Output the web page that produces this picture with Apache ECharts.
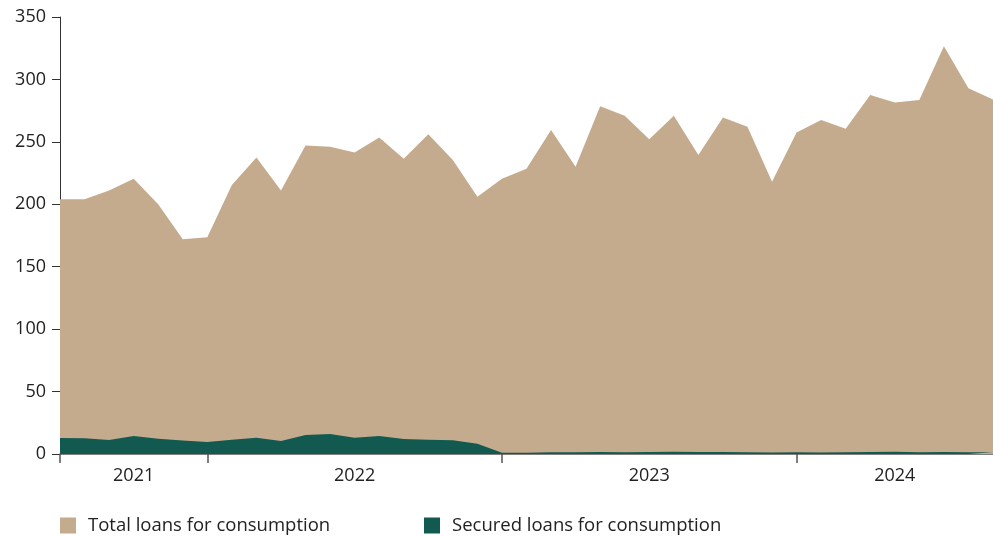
<!DOCTYPE html>
<html>
<head>
<meta charset="utf-8">
<script src="https://cdn.jsdelivr.net/npm/echarts@6/dist/echarts.min.js"></script>
<style>html,body{margin:0;padding:0;background:#fff}#c{width:993px;height:536px}</style>
</head>
<body>
<div id="c"></div>
<script>
const months = ['2021-07','2021-08','2021-09','2021-10','2021-11','2021-12',
  '2022-01','2022-02','2022-03','2022-04','2022-05','2022-06','2022-07','2022-08','2022-09','2022-10','2022-11','2022-12',
  '2023-01','2023-02','2023-03','2023-04','2023-05','2023-06','2023-07','2023-08','2023-09','2023-10','2023-11','2023-12',
  '2024-01','2024-02','2024-03','2024-04','2024-05','2024-06','2024-07','2024-08','2024-09'];
const totalLoans = [204, 204, 211, 220.5, 200, 172, 173.5, 215.5, 237.5, 211, 247, 246, 241.5, 253.5, 236.5, 256, 235.5, 206,
  220.5, 228.5, 259.5, 230, 278.5, 271, 252, 271, 239.5, 269.5, 262, 218, 257.5, 267.5, 260.5, 287.5, 281.5, 283.5, 326.5, 293, 284];
const securedLoans = [12.8, 12.6, 11.3, 14.4, 12.2, 10.8, 9.7, 11.5, 13.1, 10.5, 15.2, 16, 13.1, 14.5, 12, 11.4, 11, 8.3,
  1, 1, 1.5, 1.4, 1.7, 1.5, 1.6, 1.8, 1.7, 1.7, 1.5, 1.3, 1.4, 1.3, 1.5, 1.7, 1.8, 1.5, 1.7, 1.4, 1.4];
const yTicks = [0, 50, 100, 150, 200, 250, 300, 350];
const yearLabelIdx = [3, 12, 24, 34];
const yearTickIdx = [0, 6, 18, 30];

const FONT = '"Open Sans", Lato, sans-serif';
const chart = echarts.init(document.getElementById('c'), null, {renderer: 'canvas'});
chart.setOption({
  animation: false,
  textStyle: {fontFamily: FONT},
  grid: {left: 60, right: 0, top: 17, bottom: 82, containLabel: false},
  legend: [
    {left: 55, top: 511, itemWidth: 16, itemHeight: 16, icon: 'rect',
     textStyle: {fontSize: 18.5, color: '#222', fontFamily: FONT, padding: [0, 0, 0, 7]}, data: ['Total loans for consumption']},
    {left: 419, top: 511, itemWidth: 16, itemHeight: 16, icon: 'rect',
     textStyle: {fontSize: 18.5, color: '#222', fontFamily: FONT, padding: [0, 0, 0, 7]}, data: ['Secured loans for consumption']}
  ],
  xAxis: {
    type: 'category', data: months, boundaryGap: false,
    axisLine: {lineStyle: {color: '#555', width: 1.5}},
    axisTick: {show: true, length: 9, lineStyle: {color: '#555', width: 1.5},
      interval: (i) => yearTickIdx.includes(i)},
    axisLabel: {interval: (i) => yearLabelIdx.includes(i), formatter: v => v.slice(0, 4),
      fontSize: 18, color: '#222', margin: 13, fontFamily: FONT}
  },
  yAxis: {
    type: 'value', min: yTicks[0], max: yTicks[yTicks.length - 1], interval: 50,
    splitLine: {show: false},
    axisLine: {show: true, lineStyle: {color: '#333', width: 1}},
    axisTick: {show: true, length: 8, lineStyle: {color: '#333'}},
    axisLabel: {fontSize: 18, color: '#222', margin: 14, fontFamily: FONT}
  },
  series: [
    {name: 'Total loans for consumption', type: 'line', data: totalLoans, showSymbol: false,
     lineStyle: {width: 0}, itemStyle: {color: '#C4AB8D'}, areaStyle: {color: '#C4AB8D', opacity: 1}, z: 2},
    {name: 'Secured loans for consumption', type: 'line', data: securedLoans, showSymbol: false,
     lineStyle: {width: 0}, itemStyle: {color: '#125A50'}, areaStyle: {color: '#125A50', opacity: 1}, z: 3}
  ]
});
</script>
</body>
</html>
